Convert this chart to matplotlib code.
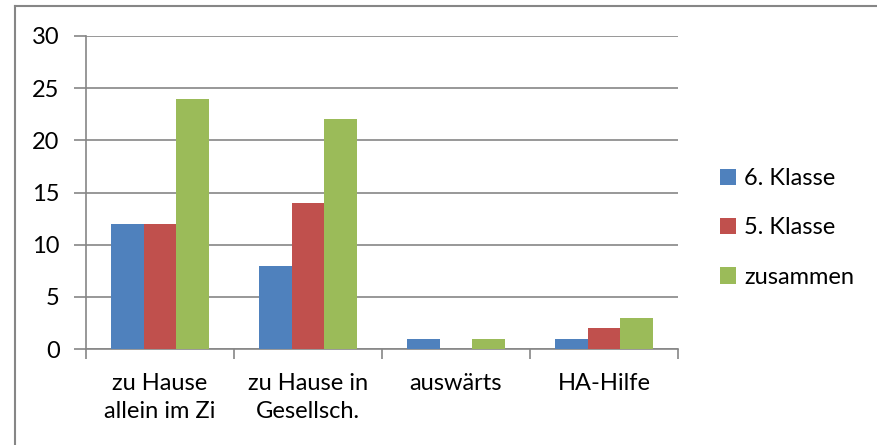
import numpy as np
import matplotlib
matplotlib.use("Agg")
import matplotlib.pyplot as plt
from matplotlib.lines import Line2D

categories = ["zu Hause\nallein im Zi", "zu Hause in\nGesellsch.", "auswärts", "HA-Hilfe"]
klasse6 = [12, 8, 1, 1]
klasse5 = [12, 14, 0, 2]
zusammen = [24, 22, 1, 3]
series_names = ["6. Klasse", "5. Klasse", "zusammen"]
colors = ["#4F81BD", "#C0504D", "#9BBB59"]
yticks = [0, 5, 10, 15, 20, 25, 30]

plt.rcParams['font.family'] = ['Lato', 'DejaVu Sans']
grey = "#868686"
fs = 17

fig = plt.figure(figsize=(8.77, 4.45), dpi=100)
ax = fig.add_axes([86 / 877, 1 - 349 / 445, (678 - 86) / 877, (349 - 36) / 445])

x = np.arange(len(categories))
w = 0.667 / 3
for i, (vals, name) in enumerate(zip([klasse6, klasse5, zusammen], series_names)):
    ax.bar(x + (i - 1) * w, vals, w, color=colors[i], label=name, zorder=3)

ax.set_xlim(-0.5, len(categories) - 0.5)
ax.set_ylim(0, 30)
ax.set_yticks(yticks)
ax.yaxis.grid(True, color=grey, linewidth=1.2, zorder=0)
ax.set_xticks(x)
ax.set_xticklabels(categories, fontsize=fs, linespacing=1.45)
ax.set_xticks(np.arange(len(categories) + 1) - 0.5, minor=True)
ax.tick_params(axis='x', which='major', length=0, pad=17)
ax.tick_params(axis='x', which='minor', length=7, color=grey, width=1.2)
ax.tick_params(axis='y', length=9, color=grey, width=1.2, labelsize=fs, pad=10)

for s in ['top', 'right']:
    ax.spines[s].set_visible(False)
for s in ['left', 'bottom']:
    ax.spines[s].set_color(grey)
    ax.spines[s].set_linewidth(1.2)

ax.legend(loc='center left', bbox_to_anchor=(1.035, 0.387), frameon=False,
          fontsize=fs, handlelength=0.68, handleheight=0.68, handletextpad=0.35,
          labelspacing=1.2)

# chart frame (top and left edges are visible in the crop)
fig.add_artist(Line2D([15 / 877, 1], [1 - 6 / 445, 1 - 6 / 445], color=grey, linewidth=1.5))
fig.add_artist(Line2D([15 / 877, 15 / 877], [0, 1 - 6 / 445], color=grey, linewidth=1.5))

fig.savefig("out.png", dpi=100)
